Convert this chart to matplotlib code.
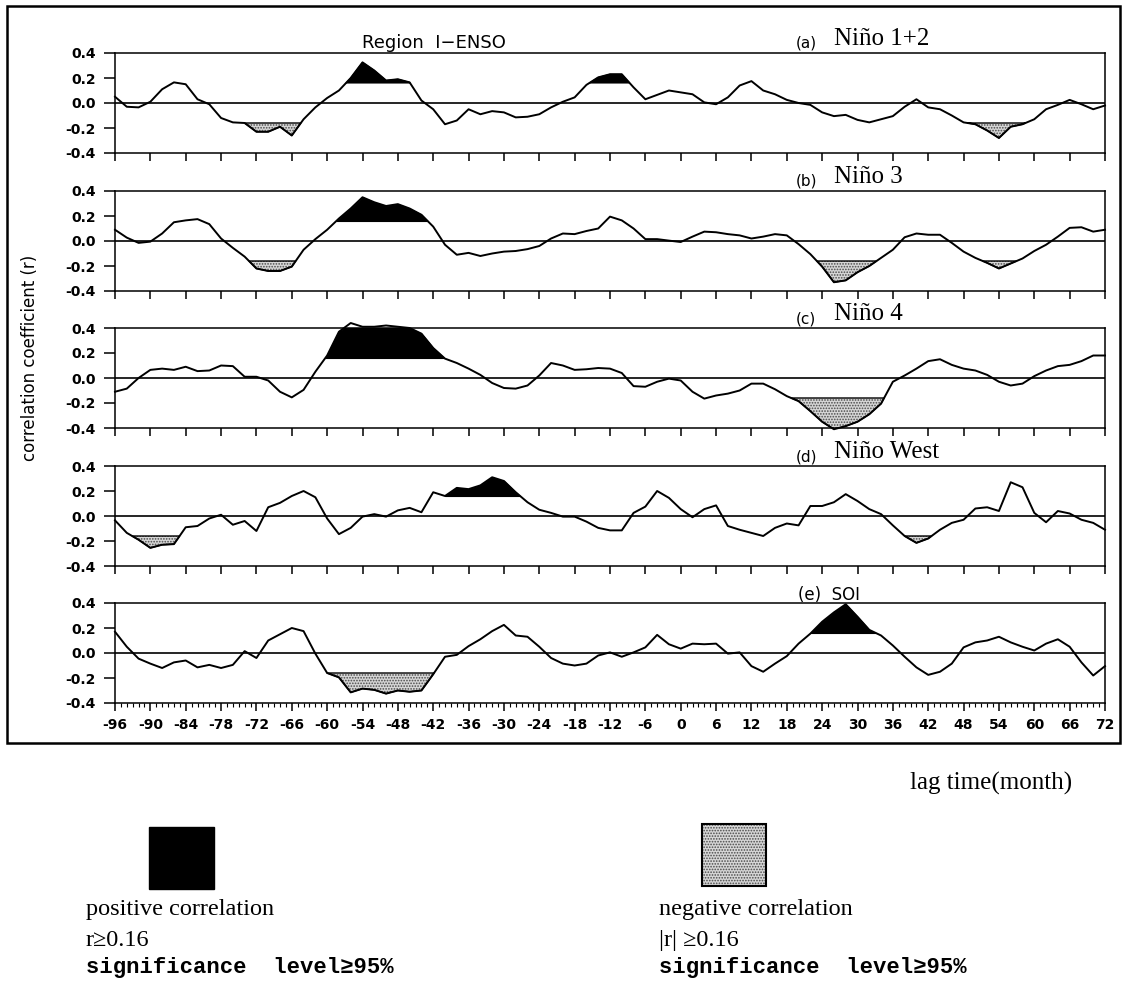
import numpy as np
import matplotlib
matplotlib.use("Agg")
import matplotlib.pyplot as plt
from matplotlib.patches import Rectangle

plt.rcParams['font.family'] = ['DejaVu Sans']
plt.rcParams['hatch.linewidth'] = 0.8

# lag (months), one value every 2 months
lags = list(range(-96, 73, 2))

nino12 = [0.05, -0.03, -0.035, 0.01, 0.11, 0.165, 0.15, 0.03, -0.01, -0.12,
          -0.155, -0.16, -0.23, -0.23, -0.19, -0.26, -0.13, -0.035, 0.04, 0.10,
          0.20, 0.325, 0.26, 0.18, 0.19, 0.165, 0.02, -0.05, -0.17, -0.14,
          -0.05, -0.09, -0.065, -0.075, -0.115, -0.11, -0.09, -0.035, 0.01, 0.045,
          0.145, 0.205, 0.23, 0.23, 0.125, 0.03, 0.065, 0.10, 0.085, 0.07,
          0.005, -0.01, 0.045, 0.14, 0.175, 0.10, 0.07, 0.025, 0.0, -0.015,
          -0.075, -0.105, -0.095, -0.135, -0.155, -0.13, -0.105, -0.03, 0.03, -0.035,
          -0.05, -0.10, -0.155, -0.17, -0.22, -0.28, -0.19, -0.17, -0.13, -0.05,
          -0.015, 0.025, -0.01, -0.05, -0.02]

nino3 = [0.09, 0.027, -0.015, -0.005, 0.06, 0.15, 0.165, 0.175, 0.135, 0.02,
         -0.055, -0.125, -0.22, -0.24, -0.24, -0.205, -0.07, 0.015, 0.09, 0.18,
         0.26, 0.35, 0.31, 0.28, 0.295, 0.26, 0.21, 0.115, -0.03, -0.11,
         -0.095, -0.12, -0.10, -0.085, -0.08, -0.065, -0.04, 0.02, 0.06, 0.055,
         0.08, 0.10, 0.195, 0.165, 0.10, 0.015, 0.015, 0.003, -0.008, 0.035,
         0.075, 0.07, 0.055, 0.045, 0.02, 0.035, 0.055, 0.045, -0.025, -0.105,
         -0.205, -0.33, -0.315, -0.25, -0.20, -0.135, -0.07, 0.03, 0.06, 0.05,
         0.05, -0.015, -0.085, -0.135, -0.175, -0.22, -0.18, -0.14, -0.08, -0.03,
         0.035, 0.105, 0.11, 0.075, 0.09]

nino4 = [-0.11, -0.085, 0.0, 0.065, 0.075, 0.065, 0.09, 0.055, 0.06, 0.10,
         0.095, 0.01, 0.01, -0.02, -0.11, -0.155, -0.095, 0.05, 0.18, 0.37,
         0.44, 0.41, 0.41, 0.42, 0.41, 0.40, 0.355, 0.24, 0.155, 0.12,
         0.075, 0.025, -0.04, -0.08, -0.085, -0.06, 0.02, 0.12, 0.10, 0.065,
         0.07, 0.08, 0.075, 0.04, -0.065, -0.07, -0.03, -0.005, -0.02, -0.11,
         -0.165, -0.14, -0.125, -0.10, -0.045, -0.045, -0.09, -0.145, -0.185, -0.265,
         -0.35, -0.41, -0.385, -0.35, -0.29, -0.205, -0.03, 0.02, 0.075, 0.135,
         0.15, 0.105, 0.075, 0.06, 0.025, -0.03, -0.06, -0.045, 0.015, 0.06,
         0.095, 0.105, 0.135, 0.18, 0.18]

nino_west = [-0.035, -0.135, -0.19, -0.255, -0.23, -0.225, -0.09, -0.08, -0.02, 0.01,
             -0.07, -0.04, -0.12, 0.07, 0.105, 0.16, 0.20, 0.15, -0.02, -0.145,
             -0.095, -0.005, 0.015, -0.005, 0.045, 0.065, 0.03, 0.19, 0.16, 0.225,
             0.215, 0.245, 0.31, 0.28, 0.19, 0.11, 0.05, 0.025, -0.005, -0.005,
             -0.045, -0.095, -0.115, -0.115, 0.025, 0.075, 0.20, 0.145, 0.055, -0.01,
             0.055, 0.085, -0.08, -0.11, -0.135, -0.16, -0.095, -0.06, -0.075, 0.08,
             0.08, 0.11, 0.175, 0.12, 0.055, 0.015, -0.075, -0.16, -0.215, -0.18,
             -0.11, -0.055, -0.03, 0.06, 0.07, 0.04, 0.27, 0.23, 0.025, -0.05,
             0.04, 0.02, -0.03, -0.055, -0.11]

soi = [0.17, 0.05, -0.045, -0.085, -0.12, -0.075, -0.06, -0.115, -0.095, -0.12,
       -0.095, 0.015, -0.04, 0.10, 0.15, 0.20, 0.175, -0.005, -0.16, -0.195,
       -0.315, -0.285, -0.295, -0.325, -0.30, -0.31, -0.30, -0.17, -0.03, -0.015,
       0.055, 0.11, 0.175, 0.225, 0.14, 0.13, 0.05, -0.04, -0.085, -0.10,
       -0.085, -0.02, 0.005, -0.03, 0.005, 0.045, 0.145, 0.07, 0.035, 0.075,
       0.07, 0.075, -0.005, 0.005, -0.105, -0.15, -0.085, -0.025, 0.075, 0.155,
       0.25, 0.325, 0.39, 0.29, 0.185, 0.14, 0.06, -0.03, -0.115, -0.175,
       -0.15, -0.085, 0.045, 0.085, 0.10, 0.13, 0.085, 0.05, 0.02, 0.075,
       0.11, 0.05, -0.075, -0.18, -0.105]

# lag ranges marked significant (|r| >= 0.16) in each panel
pos_spans = [[(-58, -44), (-16, -8)], [(-60, -40)], [(-62, -40)], [(-40, -26)], [(20, 36)]]
neg_spans = [[(-76, -62), (46, 60)], [(-74, -62), (20, 36), (50, 58)], [(16, 36)],
             [(-96, -84), (36, 44)], [(-62, -42)]]

tags = ['(a)', '(b)', '(c)', '(d)', '(e)']
names = ['Niño 1+2', 'Niño 3', 'Niño 4', 'Niño West', 'SOI']
series = [nino12, nino3, nino4, nino_west, soi]

threshold = 0.16
W, H = 1126, 982
tops = [53, 191, 328, 466, 603]
ph = 100

stipple_face = '#d6d6d6'
stipple_dots = '#4a4a4a'

fig = plt.figure(figsize=(W / 100, H / 100), dpi=100)


def span_mask(x, spans):
    m = np.zeros(len(x), bool)
    for a, b in spans:
        m |= (x >= a) & (x <= b)
    return m


serif = ['Liberation Serif', 'DejaVu Serif']
mono = ['Liberation Mono', 'DejaVu Sans Mono']

for i in range(5):
    ax = fig.add_axes([115 / W, 1 - (tops[i] + ph) / H, 990 / W, ph / H])
    x = np.array(lags, float)
    y = np.array(series[i], float)

    m = span_mask(x, pos_spans[i]) & (y >= threshold)
    ax.fill_between(x, y, threshold, where=m, interpolate=True,
                    facecolor='black', edgecolor='black', lw=0.8)
    m = span_mask(x, neg_spans[i]) & (y <= -threshold)
    ax.fill_between(x, y, -threshold, where=m, interpolate=True,
                    facecolor=stipple_face, edgecolor=stipple_dots, hatch='......', lw=0)
    ax.fill_between(x, y, -threshold, where=m, interpolate=True,
                    facecolor='none', edgecolor='black', lw=1.0)

    ax.axhline(0, color='black', lw=1.2)
    ax.plot(x, y, color='black', lw=1.4, clip_on=False)

    ax.set_xlim(-96, 72)
    ax.set_ylim(-0.4, 0.4)
    ax.set_yticks([-0.4, -0.2, 0, 0.2, 0.4])
    ax.set_yticklabels(['-0.4', '-0.2', '0.0', '0.2', '0.4'],
                       fontsize=10, fontweight='bold')
    ax.tick_params(axis='y', direction='out', length=8, width=1.1, pad=6)
    ax.set_xticks(range(-96, 73, 6))
    ax.tick_params(axis='x', which='major', direction='out', length=6, width=1.1)
    for s in ax.spines.values():
        s.set_linewidth(1.1)

    if i < 4:
        ax.tick_params(axis='x', labelbottom=False)
        fig.text(796 / W, 1 - (tops[i] - 5) / H, tags[i], fontsize=11, va='baseline')
        fig.text(834 / W, 1 - (tops[i] - 8) / H, names[i], family=serif,
                 fontsize=18, va='baseline')
    else:
        ax.set_xticks(range(-96, 73), minor=True)
        ax.tick_params(axis='x', which='minor', direction='out', length=3, width=0.8)
        ax.set_xticklabels([str(v) for v in range(-96, 73, 6)],
                           fontsize=10, fontweight='bold')
        ax.tick_params(axis='x', which='major', pad=5)
        fig.text(798 / W, 1 - (tops[i] - 3) / H, tags[i] + '  ' + names[i],
                 fontsize=12, va='baseline')

fig.text(362 / W, 1 - 48 / H, 'Region  I\u2212ENSO', fontsize=13, va='baseline')
fig.text(30 / W, 1 - 358 / H, 'correlation coefficient (r)', rotation=90,
         ha='center', va='center', fontsize=12)

# outer frame
fig.add_artist(Rectangle((7 / W, 1 - 743 / H), 1113 / W, 737 / H,
                         transform=fig.transFigure, fill=False, lw=1.8, ec='black'))

fig.text(910 / W, 1 - 790 / H, 'lag time(month)', family=serif, fontsize=18, va='baseline')

# legend
fig.add_artist(Rectangle((149 / W, 1 - 889 / H), 65 / W, 62 / H,
                         transform=fig.transFigure, fc='black', ec='black'))
fig.add_artist(Rectangle((702 / W, 1 - 886 / H), 64 / W, 62 / H,
                         transform=fig.transFigure, fc=stipple_face, ec=stipple_dots,
                         hatch='......', lw=0))
fig.add_artist(Rectangle((702 / W, 1 - 886 / H), 64 / W, 62 / H,
                         transform=fig.transFigure, fill=False, ec='black', lw=1.5))

for xl, lines in [(86, ['positive correlation', 'r\u22650.16']),
                  (659, ['negative correlation', '|r| \u22650.16'])]:
    fig.text(xl / W, 1 - 915 / H, lines[0], family=serif, fontsize=17.5, va='baseline')
    fig.text(xl / W, 1 - 946 / H, lines[1], family=serif, fontsize=17.5, va='baseline')
    fig.text(xl / W, 1 - 973 / H, 'significance  level\u226595%', family=mono,
             fontsize=16, fontweight='bold', va='baseline')

fig.savefig('out.png', dpi=100)
